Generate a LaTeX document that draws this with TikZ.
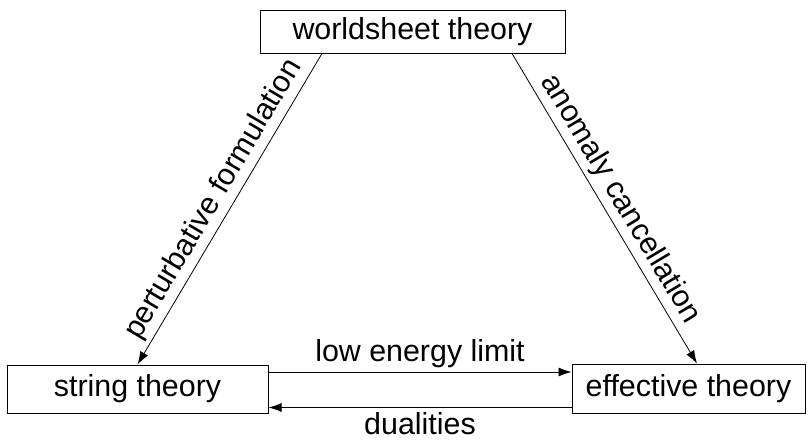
\documentclass[tikz,border=0pt]{standalone}
\usepackage{fontspec}
\setmainfont{Liberation Sans}
\usetikzlibrary{arrows.meta,positioning}

\begin{document}
\begin{tikzpicture}[
    x=0.5pt,y=-0.5pt,
    box/.style={draw,align=center,inner sep=2pt,line width=0.5pt},
    link/.style={-{Latex[length=6.5pt,width=4.5pt]},line width=0.4pt},
    lbl/.style={font=\fontsize{15.2}{18}\selectfont,inner sep=2pt},
    font=\fontsize{15.2}{18}\selectfont,
  ]
    \useasboundingbox (0,0) rectangle (811,441);
    \node[box,minimum width=152.5pt,minimum height=21.5pt] (ws) at (412.5,31.5)
      {worldsheet theory};
    \node[box,minimum width=130.5pt,minimum height=24pt] (str) at (137.5,389)
      {string theory};
    \node[box,minimum width=116.5pt,minimum height=24.5pt] (eff) at (688.5,388.5)
      {effective theory};
    \draw[link] ([xshift=-45.25pt]ws.south) -- (str.north)
      node[lbl,midway,sloped,above] {perturbative formulation};
    \draw[link] ([xshift=49.75pt]ws.south) -- ([xshift=4.25pt]eff.north)
      node[lbl,midway,sloped,above] {anomaly cancellation};
    \draw[link] ([yshift=8.5pt]str.east) -- ([yshift=8.5pt]str.east -| eff.west)
      node[lbl,midway,above] {low energy limit};
    \draw[link] ([yshift=-9.5pt]eff.west) -- ([yshift=-9.5pt]eff.west -| str.east)
      node[lbl,midway,below=1.5pt,inner sep=1pt] {dualities};
  \end{tikzpicture}
\end{document}
